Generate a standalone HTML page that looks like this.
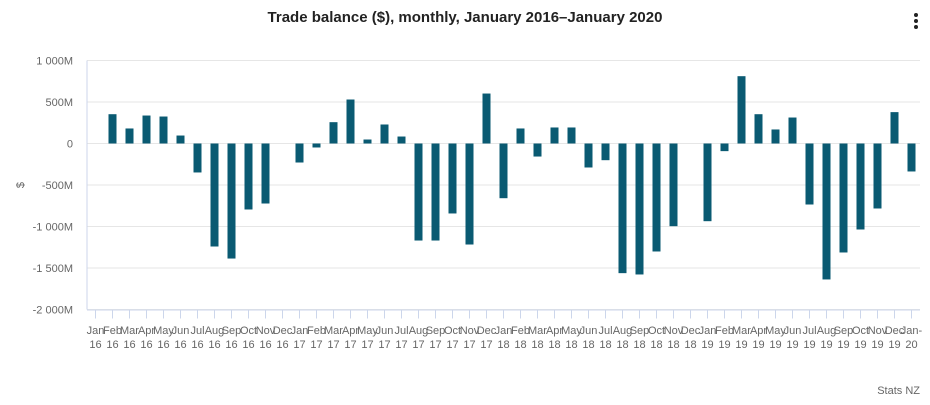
<!DOCTYPE html>
<html><head><meta charset="utf-8"><style>
body{margin:0;background:#fff;font-family:"Liberation Sans",sans-serif}
svg text{font-family:"Liberation Sans",sans-serif}
</style></head><body>
<svg id="chart" width="930" height="400" xmlns="http://www.w3.org/2000/svg">
<text x="465" y="22" text-anchor="middle" font-size="15" font-weight="bold" fill="#222">Trade balance ($), monthly, January 2016–January 2020</text>
<g><circle cx="916" cy="15" r="2" fill="#222"/><circle cx="916" cy="21" r="2" fill="#222"/><circle cx="916" cy="27" r="2" fill="#222"/></g>
<text transform="translate(24,185) rotate(-90)" text-anchor="middle" font-size="11" fill="#666">$</text>
<g id="grid"></g><g id="bars"></g><g id="xaxis"></g>
<text x="920" y="394" text-anchor="end" font-size="11" fill="#666">Stats NZ</text>
</svg>
<script>
const months=["Jan","Feb","Mar","Apr","May","Jun","Jul","Aug","Sep","Oct","Nov","Dec"];
const yearLabels=["16","17","18","19","20"];
const values=[0,353,181,337,325,96,-349,-1241,-1386,-795,-723,0,
-229,-48,257,530,48,229,84,-1169,-1169,-843,-1217,602,
-659,181,-157,193,193,-289,-201,-1562,-1578,-1301,-996,0,
-936,-92,811,353,169,313,-735,-1638,-1313,-1036,-783,378,-337];
const yTicks=[1000,500,0,-500,-1000,-1500,-2000];
const yTickLabels=["1 000M","500M","0","-500M","-1 000M","-1 500M","-2 000M"];
const NS="http://www.w3.org/2000/svg";
const L=87,R=920,n=values.length,cw=(R-L)/n;
const y=v=>143.5-v*41.5/500;
const xc=i=>L+cw*(i+0.5);
function mk(t,a,p){const e=document.createElementNS(NS,t);for(const k in a)e.setAttribute(k,a[k]);p.appendChild(e);return e;}
const grid=document.getElementById('grid'),bars=document.getElementById('bars'),xa=document.getElementById('xaxis');
yTicks.forEach((v,i)=>{
 const g=mk('line',{x1:L,x2:R,y1:y(v),y2:y(v),stroke:'#e6e6e6','stroke-width':1},grid);
 
 
 const t=mk('text',{x:73,y:y(v)+4,'text-anchor':'end','font-size':11,fill:'#666'},grid);
 t.textContent=yTickLabels[i];
 
 
});
const ax=mk('line',{x1:L,x2:L,y1:y(1000),y2:y(-2000),stroke:'#ccd6eb'},grid);


values.forEach((v,i)=>{
 if(v===0)return;
 const r=mk('rect',{x:xc(i)-4,width:8,y:Math.min(y(v),y(0)),height:Math.abs(y(v)-y(0)),fill:'#0a5a72'},bars);
 
 
});
const bl=mk('line',{x1:L,x2:R,y1:y(-2000)+0.5,y2:y(-2000)+0.5,stroke:'#ccd6eb'},xa);


values.forEach((v,i)=>{
 const tk=mk('line',{x1:xc(i),x2:xc(i),y1:y(-2000),y2:y(-2000)+9,stroke:'#ccd6eb'},xa);
 
 
 const t=mk('text',{x:xc(i),y:334,'text-anchor':'middle','font-size':11,fill:'#666'},xa);
 
 
 const a=mk('tspan',{x:xc(i)},t);a.textContent=months[i%12]+(i===n-1?"-":"");
 const b=mk('tspan',{x:xc(i),dy:14},t);b.textContent=yearLabels[Math.floor(i/12)];
});
</script>
</body></html>
